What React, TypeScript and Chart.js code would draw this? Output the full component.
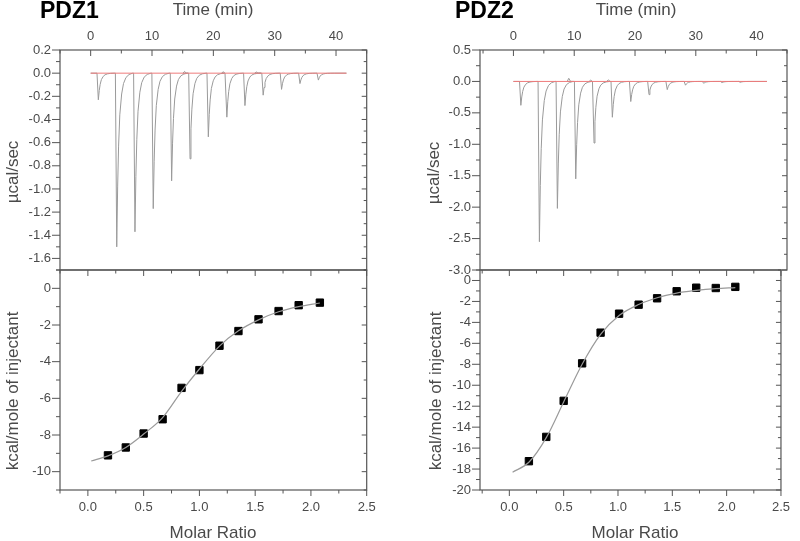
import React, { useEffect, useRef } from 'react';
import { Chart, registerables } from 'chart.js';
Chart.register(...registerables);

// ---------------- data ----------------
// PDZ1 thermogram: injection peak times (min) and peak heights (µcal/sec)
const peakTimes1 = [1.25, 4.25, 7.22, 10.2, 13.2, 16.2, 19.18, 22.2, 25.15, 28.12, 31.12, 34.12, 37.12];
const peakHeights1 = [-0.23, -1.5, -1.37, -1.17, -0.93, -0.74, -0.55, -0.38, -0.28, -0.19, -0.14, -0.09, -0.06];
// PDZ2 thermogram
const peakTimes2 = [1.22, 4.27, 7.23, 10.25, 13.26, 16.27, 19.3, 22.3, 25.3, 28.3, 31.3, 34.3, 37.3];
const peakHeights2 = [-0.38, -2.55, -2.02, -1.55, -0.98, -0.57, -0.32, -0.21, -0.13, -0.06, -0.03, -0.02, -0.015];
// Shape of a single injection peak as seen in the trace (min relative to the peak, fraction of peak height)
const peakShapeOffsets = [-0.22, 0, 0.15, 0.3, 0.5, 0.8, 1.1, 1.5, 2.0, 2.6];
const peakShapeFractions = [0, 1, 0.65, 0.42, 0.24, 0.12, 0.06, 0.025, 0.008, 0];
// Small baseline bumps (min, µcal/sec)
const bumps1: [number, number][] = [[15.3, 0.015], [21.6, 0.012], [27.0, 0.01]];
const bumps2: [number, number][] = [[9.1, 0.05], [12.7, 0.02], [15.6, 0.025]];
const traceStart = 0;
const traceEnd = 41.7;

// Integrated heats (kcal/mole of injectant) vs molar ratio
const molarRatio1 = [0.18, 0.34, 0.5, 0.67, 0.84, 1.0, 1.18, 1.35, 1.53, 1.71, 1.89, 2.08];
const heat1 = [-9.11, -8.68, -7.92, -7.14, -5.43, -4.46, -3.13, -2.33, -1.69, -1.24, -0.92, -0.78];
const fitRatio1 = [0.03, 0.18, 0.34, 0.5, 0.67, 0.84, 1.0, 1.18, 1.35, 1.53, 1.71, 1.89, 2.08];
const fitHeat1 = [-9.42, -9.14, -8.68, -7.95, -7.05, -5.62, -4.4, -3.15, -2.32, -1.72, -1.28, -1.0, -0.8];

const molarRatio2 = [0.18, 0.34, 0.5, 0.67, 0.84, 1.01, 1.19, 1.36, 1.54, 1.72, 1.9, 2.08];
const heat2 = [-17.25, -14.93, -11.49, -7.91, -4.98, -3.17, -2.31, -1.7, -1.03, -0.69, -0.72, -0.61];
const fitRatio2 = [0.03, 0.18, 0.34, 0.5, 0.67, 0.84, 1.01, 1.19, 1.36, 1.54, 1.72, 1.9, 2.08];
const fitHeat2 = [-18.3, -17.35, -15.0, -11.6, -8.0, -5.15, -3.35, -2.3, -1.65, -1.2, -0.95, -0.78, -0.68];

// Tick labels
const timeTicks = [0, 10, 20, 30, 40];
const powerTicks1 = [0.2, 0.0, -0.2, -0.4, -0.6, -0.8, -1.0, -1.2, -1.4, -1.6];
const powerTicks2 = [0.5, 0.0, -0.5, -1.0, -1.5, -2.0, -2.5, -3.0];
const ratioTicks = [0.0, 0.5, 1.0, 1.5, 2.0, 2.5];
const heatTicks1 = [0, -2, -4, -6, -8, -10];
const heatTicks2 = [0, -2, -4, -6, -8, -10, -12, -14, -16, -18, -20];

// ---------------- styling ----------------
const FONT = "Arial, 'Liberation Sans', Helvetica, sans-serif";
const AXIS = '#555555';
const TEXT = '#4a4a4a';
const TRACE = '#9a9a9a';
const BASE = '#ee7b7b';
const W = 800;
const H = 541;

type Pt = { x: number; y: number };

function buildTrace(times: number[], heights: number[], bumps: [number, number][]): Pt[] {
  const pts: Pt[] = [{ x: traceStart, y: 0 }];
  const events: { t: number; pts: Pt[] }[] = [];
  times.forEach((t, i) => {
    events.push({
      t,
      pts: peakShapeOffsets.map((o, j) => ({ x: t + o, y: heights[i] * peakShapeFractions[j] })),
    });
  });
  bumps.forEach(([t, v]) => {
    events.push({ t, pts: [{ x: t - 0.25, y: 0 }, { x: t, y: v }, { x: t + 0.3, y: 0 }] });
  });
  events.sort((a, b) => a.t - b.t);
  events.forEach((e) => pts.push(...e.pts));
  pts.push({ x: traceEnd, y: 0 });
  return pts;
}

type Side = {
  side: 'top' | 'bottom' | 'left' | 'right';
  axis: string;
  major: number;
  minor: number;
  dir: 'in' | 'out';
  majorLen: number;
  minorLen: number;
};
type Label = { text: string; x: number; y: number; font: string; color: string; rotate?: boolean; align?: CanvasTextAlign };

function framePlugin(sides: Side[], labels: Label[]) {
  return {
    id: 'frameTicks',
    afterDraw(chart: any) {
      const { ctx, chartArea: a } = chart;
      ctx.save();
      ctx.strokeStyle = AXIS;
      ctx.lineWidth = 1.2;
      ctx.strokeRect(a.left, a.top, a.right - a.left, a.bottom - a.top);
      ctx.lineWidth = 1;
      for (const s of sides) {
        const sc = chart.scales[s.axis];
        const k0 = Math.ceil(sc.min / s.minor - 1e-6);
        const k1 = Math.floor(sc.max / s.minor + 1e-6);
        for (let k = k0; k <= k1; k++) {
          const v = k * s.minor;
          const r = v / s.major;
          const major = Math.abs(r - Math.round(r)) < 1e-6;
          const len = major ? s.majorLen : s.minorLen;
          const p = sc.getPixelForValue(v);
          ctx.beginPath();
          if (s.side === 'left') {
            const d = s.dir === 'out' ? -len : len;
            ctx.moveTo(a.left, p);
            ctx.lineTo(a.left + d, p);
          } else if (s.side === 'right') {
            const d = s.dir === 'out' ? len : -len;
            ctx.moveTo(a.right, p);
            ctx.lineTo(a.right + d, p);
          } else if (s.side === 'top') {
            const d = s.dir === 'out' ? -len : len;
            ctx.moveTo(p, a.top);
            ctx.lineTo(p, a.top + d);
          } else {
            const d = s.dir === 'out' ? len : -len;
            ctx.moveTo(p, a.bottom);
            ctx.lineTo(p, a.bottom + d);
          }
          ctx.stroke();
        }
      }
      for (const l of labels) {
        ctx.save();
        ctx.font = l.font;
        ctx.fillStyle = l.color;
        ctx.textAlign = l.align || 'center';
        ctx.textBaseline = 'middle';
        ctx.translate(l.x, l.y);
        if (l.rotate) ctx.rotate(-Math.PI / 2);
        ctx.fillText(l.text, 0, 0);
        ctx.restore();
      }
      ctx.restore();
    },
  };
}

const tickFont = { family: FONT, size: 13 };
const hiddenGrid = { display: false, drawTicks: false };
const fixedTicks = (vals: number[]) => (s: any) => {
  s.ticks = vals.map((value) => ({ value }));
};

function thermoConfig(
  trace: Pt[],
  xmin: number,
  xmax: number,
  ymin: number,
  ymax: number,
  yTicks: number[],
  ystep: number,
  ystepMinor: number,
  pad: { left: number; right: number },
  yWidth: number,
  labels: Label[]
): any {
  return {
    type: 'line',
    data: {
      datasets: [
        {
          data: [
            { x: traceStart, y: 0 },
            { x: traceEnd, y: 0 },
          ],
          borderColor: BASE,
          borderWidth: 1,
          pointRadius: 0,
        },
        { data: trace, borderColor: TRACE, borderWidth: 1, pointRadius: 0, tension: 0 },
      ],
    },
    options: {
      responsive: false,
      animation: false,
      events: [],
      layout: { padding: { left: pad.left, right: pad.right, top: 0, bottom: H - 270 } },
      plugins: { legend: { display: false }, tooltip: { enabled: false } },
      scales: {
        x: {
          type: 'linear',
          position: 'top',
          min: xmin,
          max: xmax,
          afterBuildTicks: fixedTicks(timeTicks),
          afterFit: (s: any) => {
            s.height = 50;
          },
          grid: hiddenGrid,
          border: { display: false },
          ticks: {
            autoSkip: false,
            maxRotation: 0,
            padding: 6,
            color: TEXT,
            font: tickFont,
            callback: (v: any) => String(Math.round(Number(v))),
          },
        },
        y: {
          type: 'linear',
          position: 'left',
          min: ymin,
          max: ymax,
          afterBuildTicks: fixedTicks(yTicks),
          afterFit: (s: any) => {
            s.width = yWidth;
          },
          grid: hiddenGrid,
          border: { display: false },
          ticks: {
            autoSkip: false,
            padding: 9,
            color: TEXT,
            font: tickFont,
            callback: (v: any) => Number(v).toFixed(1),
          },
        },
      },
    },
    plugins: [
      framePlugin(
        [
          { side: 'top', axis: 'x', major: 10, minor: 5, dir: 'in', majorLen: 6, minorLen: 3.5 },
          { side: 'left', axis: 'y', major: ystep, minor: ystepMinor, dir: 'out', majorLen: 8, minorLen: 4 },
          { side: 'right', axis: 'y', major: ystep, minor: ystepMinor, dir: 'in', majorLen: 5, minorLen: 3 },
        ],
        labels
      ),
    ],
  };
}

function isoConfig(
  rx: number[],
  hy: number[],
  fx: number[],
  fy: number[],
  xmin: number,
  ymin: number,
  ymax: number,
  yTicks: number[],
  pad: { left: number; right: number },
  yWidth: number,
  labels: Label[]
): any {
  return {
    type: 'line',
    data: {
      datasets: [
        {
          data: fx.map((x, i) => ({ x, y: fy[i] })),
          borderColor: TRACE,
          borderWidth: 1.2,
          pointRadius: 0,
          cubicInterpolationMode: 'monotone',
        },
        {
          data: rx.map((x, i) => ({ x, y: hy[i] })),
          showLine: false,
          pointStyle: 'rect',
          pointRadius: 5.2,
          pointBackgroundColor: '#000',
          pointBorderColor: '#000',
          pointBorderWidth: 1,
        },
      ],
    },
    options: {
      responsive: false,
      animation: false,
      events: [],
      layout: { padding: { left: pad.left, right: pad.right, top: 270, bottom: 0 } },
      plugins: { legend: { display: false }, tooltip: { enabled: false } },
      scales: {
        x: {
          type: 'linear',
          position: 'bottom',
          min: xmin,
          max: 2.5,
          afterBuildTicks: fixedTicks(ratioTicks),
          afterFit: (s: any) => {
            s.height = H - 490;
          },
          grid: hiddenGrid,
          border: { display: false },
          ticks: {
            autoSkip: false,
            maxRotation: 0,
            padding: 10,
            color: TEXT,
            font: tickFont,
            callback: (v: any) => Number(v).toFixed(1),
          },
        },
        y: {
          type: 'linear',
          position: 'left',
          min: ymin,
          max: ymax,
          afterBuildTicks: fixedTicks(yTicks),
          afterFit: (s: any) => {
            s.width = yWidth;
          },
          grid: hiddenGrid,
          border: { display: false },
          ticks: {
            autoSkip: false,
            padding: 9,
            color: TEXT,
            font: tickFont,
            callback: (v: any) => String(Math.round(Number(v))),
          },
        },
      },
    },
    plugins: [
      framePlugin(
        [
          { side: 'top', axis: 'x', major: 0.5, minor: 0.25, dir: 'in', majorLen: 6, minorLen: 3.5 },
          { side: 'bottom', axis: 'x', major: 0.5, minor: 0.25, dir: 'out', majorLen: 6, minorLen: 3.5 },
          { side: 'left', axis: 'y', major: 2, minor: 1, dir: 'out', majorLen: 8, minorLen: 4 },
          { side: 'right', axis: 'y', major: 2, minor: 1, dir: 'in', majorLen: 5, minorLen: 3 },
        ],
        labels
      ),
    ],
  };
}

const titleFont = `17px ${FONT}`;
const boldFont = `bold 23px ${FONT}`;

export default function App() {
  const r0 = useRef<HTMLCanvasElement>(null);
  const r1 = useRef<HTMLCanvasElement>(null);
  const r2 = useRef<HTMLCanvasElement>(null);
  const r3 = useRef<HTMLCanvasElement>(null);

  useEffect(() => {
    const trace1 = buildTrace(peakTimes1, peakHeights1, bumps1);
    const trace2 = buildTrace(peakTimes2, peakHeights2, bumps2);

    const cfgs = [
      thermoConfig(trace1, -5, 45, -1.7, 0.2, powerTicks1, 0.2, 0.1, { left: 0, right: W - 366.7 }, 60, [
        { text: 'PDZ1', x: 40, y: 12, font: boldFont, color: '#000', align: 'left' },
        { text: 'Time (min)', x: 213, y: 10, font: titleFont, color: TEXT },
        { text: 'µcal/sec', x: 13, y: 172, font: titleFont, color: TEXT, rotate: true },
      ]),
      isoConfig(molarRatio1, heat1, fitRatio1, fitHeat1, -0.25, -11, 1, heatTicks1, { left: 0, right: W - 366.7 }, 60, [
        { text: 'kcal/mole of injectant', x: 13, y: 391, font: titleFont, color: TEXT, rotate: true },
        { text: 'Molar Ratio', x: 213, y: 533, font: titleFont, color: TEXT },
      ]),
      thermoConfig(trace2, -5.5, 45, -3.0, 0.5, powerTicks2, 0.5, 0.25, { left: 400, right: W - 787 }, 80, [
        { text: 'PDZ2', x: 455, y: 12, font: boldFont, color: '#000', align: 'left' },
        { text: 'Time (min)', x: 636, y: 10, font: titleFont, color: TEXT },
        { text: 'µcal/sec', x: 434, y: 173, font: titleFont, color: TEXT, rotate: true },
      ]),
      isoConfig(molarRatio2, heat2, fitRatio2, fitHeat2, -0.27, -20, 1, heatTicks2, { left: 400, right: W - 787 }, 80, [
        { text: 'kcal/mole of injectant', x: 436, y: 391, font: titleFont, color: TEXT, rotate: true },
        { text: 'Molar Ratio', x: 635, y: 533, font: titleFont, color: TEXT },
      ]),
    ];
    const refs = [r0, r1, r2, r3];
    const charts = cfgs.map((c, i) => new Chart(refs[i].current as HTMLCanvasElement, c));
    return () => charts.forEach((c) => c.destroy());
  }, []);

  const cs: React.CSSProperties = { position: 'absolute', left: 0, top: 0 };
  return (
    <div style={{ position: 'absolute', left: 0, top: 0, width: W, height: H, background: '#fff' }}>
      <canvas ref={r0} width={W} height={H} style={cs} />
      <canvas ref={r1} width={W} height={H} style={cs} />
      <canvas ref={r2} width={W} height={H} style={cs} />
      <canvas ref={r3} width={W} height={H} style={cs} />
    </div>
  );
}
